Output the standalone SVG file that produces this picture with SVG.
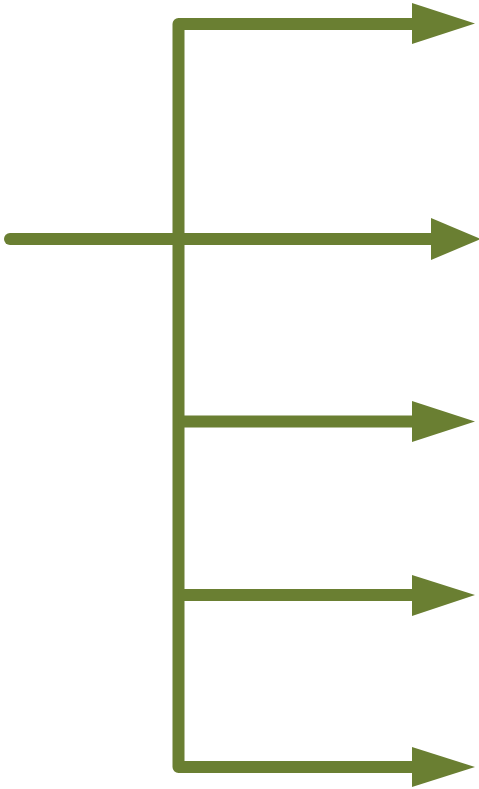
<svg xmlns="http://www.w3.org/2000/svg" width="479" height="789" viewBox="0 0 479 789">
<style>
.ln{fill:none;stroke:#6a7f32;stroke-width:12;stroke-linejoin:round}
.hd{fill:#6a7f32}
</style>
<rect width="479" height="789" fill="#ffffff"/>
<g id="connectors">
<path class="ln" d="M420 24 H178.5 V767 H420"/>
<path class="ln" d="M178.5 421.5 H420"/>
<path class="ln" d="M178.5 595 H420"/>
<path class="ln" d="M10 239 H440" stroke-linecap="round"/>
<polygon class="hd" points="412,3 475,23.5 412,44"/>
<polygon class="hd" points="431,218 481,239 431,260"/>
<polygon class="hd" points="412,401 475,421.5 412,442"/>
<polygon class="hd" points="412,575 475,595 412,616"/>
<polygon class="hd" points="412,747 475,767 412,787"/>
</g>
</svg>
